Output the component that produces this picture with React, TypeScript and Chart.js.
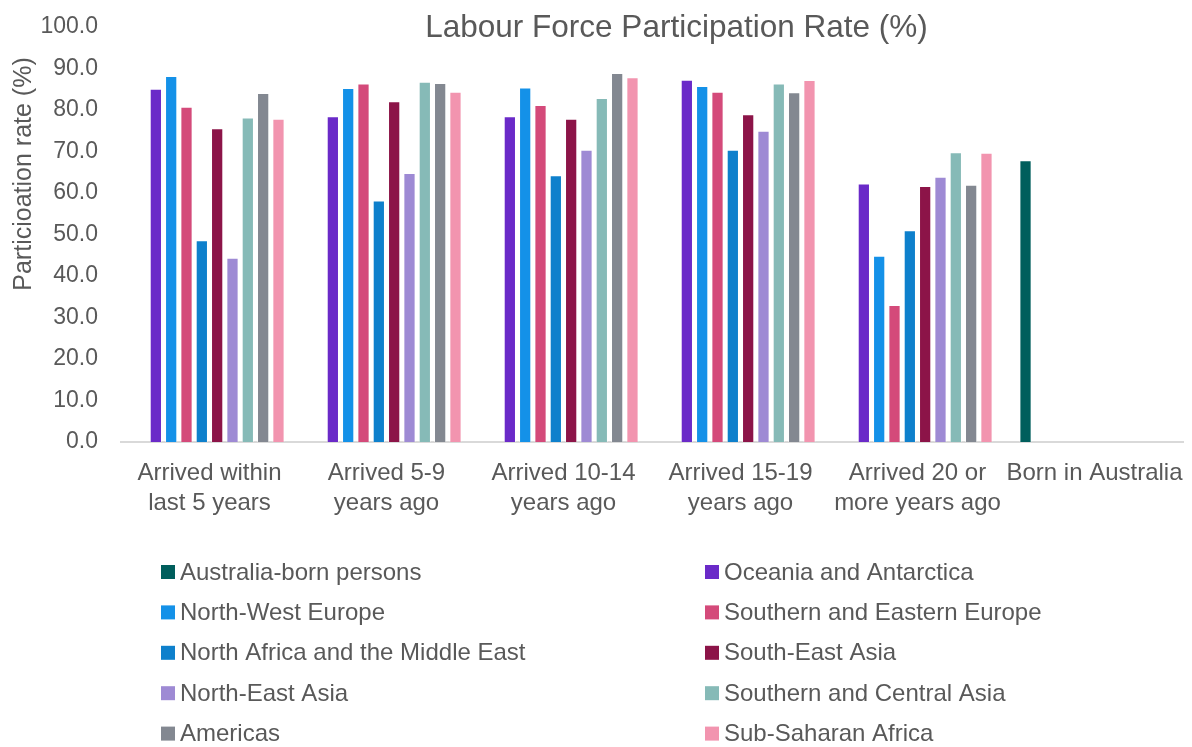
import React, { useEffect, useRef } from "react";
import { Chart, registerables } from "chart.js";

Chart.register(...registerables);

const categories: string[][] = [
  ["Arrived within", "last 5 years"],
  ["Arrived 5-9", "years ago"],
  ["Arrived 10-14", "years ago"],
  ["Arrived 15-19", "years ago"],
  ["Arrived 20 or", "more years ago"],
  ["Born in Australia"],
];

const seriesNames: string[] = [
  "Australia-born persons",
  "Oceania and Antarctica",
  "North-West Europe",
  "Southern and Eastern Europe",
  "North Africa and the Middle East",
  "South-East Asia",
  "North-East Asia",
  "Southern and Central Asia",
  "Americas",
  "Sub-Saharan Africa",
];

const australiaBorn = [null, null, null, null, null, 67.9];
const oceania = [85.1, 78.5, 78.5, 87.3, 62.3, null];
const northWestEurope = [88.2, 85.3, 85.4, 85.8, 44.9, null];
const southernEasternEurope = [80.8, 86.4, 81.2, 84.4, 33.0, null];
const northAfricaMiddleEast = [48.6, 58.2, 64.3, 70.4, 51.0, null];
const southEastAsia = [75.6, 82.1, 77.9, 79.0, 61.7, null];
const northEastAsia = [44.4, 64.8, 70.4, 75.0, 63.9, null];
const southernCentralAsia = [78.2, 86.8, 82.9, 86.4, 69.8, null];
const americas = [84.1, 86.5, 88.9, 84.3, 62.0, null];
const subSaharanAfrica = [77.9, 84.4, 87.9, 87.2, 69.7, null];

const seriesValues = [
  australiaBorn,
  oceania,
  northWestEurope,
  southernEasternEurope,
  northAfricaMiddleEast,
  southEastAsia,
  northEastAsia,
  southernCentralAsia,
  americas,
  subSaharanAfrica,
];

const seriesColors: string[] = [
  "#005E5C",
  "#6A2AC8",
  "#1491E8",
  "#D44A7A",
  "#0E80CC",
  "#8C1448",
  "#9E8AD4",
  "#86BAB7",
  "#838891",
  "#F294AF",
];

const yTicks = [0, 10, 20, 30, 40, 50, 60, 70, 80, 90, 100];

const TITLE = "Labour Force Participation Rate (%)";
const Y_TITLE = "Particioation rate (%)";
const TEXT_COLOR = "#595959";
const FONT = "'Liberation Sans', Arial, sans-serif";

const decorPlugin = {
  id: "decor",
  afterDraw(chart: any) {
    const ctx = chart.ctx;
    ctx.save();
    ctx.fillStyle = TEXT_COLOR;
    // Title
    ctx.font = `31.5px ${FONT}`;
    ctx.textAlign = "center";
    ctx.textBaseline = "middle";
    ctx.fillText(TITLE, 676.5, 28);
    // Y axis title
    ctx.save();
    ctx.translate(24, 174);
    ctx.rotate(-Math.PI / 2);
    ctx.font = `25px ${FONT}`;
    ctx.fillText(Y_TITLE, 0, 0);
    ctx.restore();
    // Legend in two columns
    ctx.font = `24px ${FONT}`;
    ctx.textAlign = "left";
    ctx.textBaseline = "middle";
    const colX = [161, 705];
    const rowY0 = 572;
    const rowStep = 40.4;
    seriesNames.forEach((name, i) => {
      const col = i % 2;
      const row = Math.floor(i / 2);
      const x = colX[col];
      const y = rowY0 + row * rowStep;
      ctx.fillStyle = seriesColors[i];
      ctx.fillRect(x, y - 7, 14, 14);
      ctx.fillStyle = TEXT_COLOR;
      ctx.fillText(name, x + 19, y + 1);
    });
    ctx.restore();
  },
};

export default function App() {
  const canvasRef = useRef<HTMLCanvasElement | null>(null);

  useEffect(() => {
    if (!canvasRef.current) return;
    const chart = new Chart(canvasRef.current, {
      type: "bar",
      data: {
        labels: categories,
        datasets: seriesNames.map((name, i) => ({
          label: name,
          data: seriesValues[i],
          backgroundColor: seriesColors[i],
          borderColor: "rgba(255,255,255,0.45)",
          borderWidth: 1,
          categoryPercentage: 0.866,
          barPercentage: 0.8,
        })),
      },
      options: {
        responsive: false,
        animation: false,
        maintainAspectRatio: false,
        layout: {
          padding: { left: 0, right: 9, top: 27, bottom: 223 },
        },
        plugins: {
          legend: { display: false },
          title: { display: false },
          tooltip: { enabled: false },
        },
        scales: {
          x: {
            grid: { display: false, drawTicks: false },
            border: { display: true, color: "#D9D9D9", width: 2 },
            ticks: {
              color: TEXT_COLOR,
              font: { family: FONT, size: 24, lineHeight: 1.22 },
              padding: 17,
              maxRotation: 0,
              autoSkip: false,
            },
            afterFit: (s: any) => {
              s.height = 82;
              s.paddingLeft = 0;
              s.paddingRight = 0;
            },
          },
          y: {
            min: 0,
            max: 100,
            afterBuildTicks: (s: any) => {
              s.ticks = yTicks.map((v) => ({ value: v }));
            },
            grid: { display: false, drawTicks: false },
            border: { display: false },
            ticks: {
              color: TEXT_COLOR,
              font: { family: FONT, size: 23 },
              padding: 23,
              callback: (v: any) => Number(v).toFixed(1),
            },
            afterFit: (s: any) => {
              s.width = 121;
              s.paddingTop = 0;
              s.paddingBottom = 0;
            },
          },
        },
      },
      plugins: [decorPlugin],
    });
    return () => chart.destroy();
  }, []);

  return (
    <div style={{ position: "fixed", left: 0, top: 0, width: 1192, height: 747, background: "#fff" }}>
      <canvas ref={canvasRef} width={1192} height={747} style={{ width: 1192, height: 747 }} />
    </div>
  );
}
